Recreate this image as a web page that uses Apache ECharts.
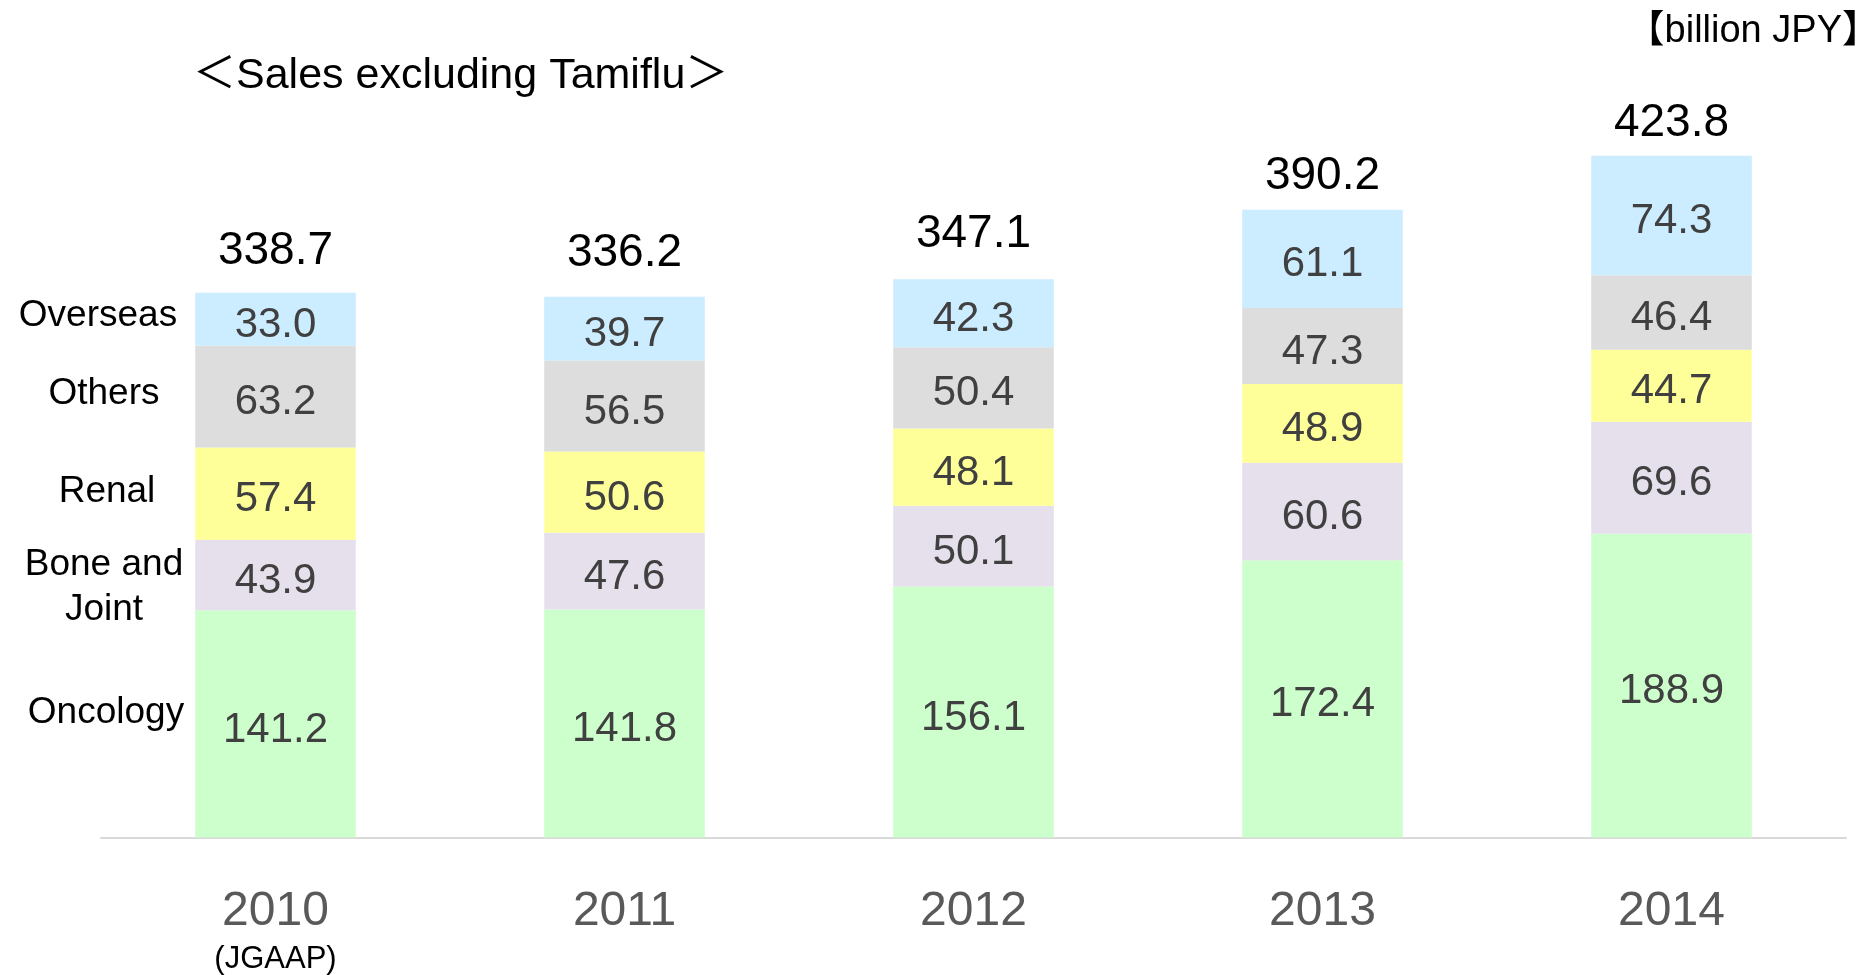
<!DOCTYPE html>
<html>
<head>
<meta charset="utf-8">
<script src="https://cdn.jsdelivr.net/npm/echarts@6/dist/echarts.min.js"></script>
<style>
    html, body { margin: 0; padding: 0; background: #fff; }
    #chart { width: 1869px; height: 975px; }
</style>
</head>
<body>
<div id="chart"></div>
<script>
    // data
    const years = ['2010', '2011', '2012', '2013', '2014'];
    const segNames = ['Oncology', 'Bone and\nJoint', 'Renal', 'Others', 'Overseas'];
    const oncology = [141.2, 141.8, 156.1, 172.4, 188.9];
    const boneJoint = [43.9, 47.6, 50.1, 60.6, 69.6];
    const renal = [57.4, 50.6, 48.1, 48.9, 44.7];
    const others = [63.2, 56.5, 50.4, 47.3, 46.4];
    const overseas = [33.0, 39.7, 42.3, 61.1, 74.3];
    const totals = [338.7, 336.2, 347.1, 390.2, 423.8];

    const colors = ['#CCFFCC', '#E5E0EC', '#FFFF99', '#DDDDDD', '#CCECFF'];
    const font = "'Liberation Sans', Arial, 'Noto Sans CJK JP', sans-serif";

    let chart = echarts.init(document.getElementById('chart'));

    const segSeries = [oncology, boneJoint, renal, others, overseas].map(function (vals, i) {
        return {
            name: segNames[i],
            type: 'bar',
            stack: 'sales',
            barWidth: '46%',
            data: vals,
            itemStyle: { color: colors[i] },
            label: {
                show: true,
                position: 'inside',
                offset: [0, 6],
                fontFamily: font,
                fontSize: 42,
                color: '#404040',
                formatter: function (p) { return p.value.toFixed(1); }
            }
        };
    });

    // label distance above each stack
    const topGap = [18, 20, 22, 10, 9];

    // zero height bar on top of each stack carries the total label
    const totalSeries = {
        name: 'total',
        type: 'bar',
        stack: 'sales',
        barWidth: '46%',
        silent: true,
        data: totals.map(function (t, i) {
            return { value: 0, label: { distance: topGap[i] } };
        }),
        label: {
            show: true,
            position: 'top',
            fontFamily: font,
            fontSize: 46,
            color: '#000',
            formatter: function (p) { return totals[p.dataIndex].toFixed(1); }
        }
    };

    // left side category names, next to the first bar
    const sideX = [106, 104, 107, 104, 98];
    const sideY = [713, 587, 492, 394, 316];
    const sideLabels = segNames.map(function (n, i) {
        return {
            type: 'text',
            x: sideX[i],
            y: sideY[i],
            style: {
                text: n,
                align: 'center',
                verticalAlign: 'middle',
                fontFamily: font,
                fontSize: 37,
                lineHeight: 45,
                fill: '#000'
            }
        };
    });

    chart.setOption({
        animation: false,
        grid: { left: 101, right: 23, top: 30, bottom: 137 },
        xAxis: {
            type: 'category',
            data: years,
            axisLine: { lineStyle: { color: '#D9D9D9', width: 2 } },
            axisTick: { show: false },
            axisLabel: {
                margin: 50,
                formatter: function (v) {
                    return v === '2010' ? '{y|' + v + '}\n{n|(JGAAP)}' : '{y|' + v + '}';
                },
                rich: {
                    y: { fontFamily: font, fontSize: 48, lineHeight: 48, color: '#595959' },
                    n: { fontFamily: font, fontSize: 31, lineHeight: 48, color: '#000' }
                }
            }
        },
        yAxis: {
            type: 'value',
            min: 0,
            max: 502,
            show: false,
            splitLine: { show: false }
        },
        series: segSeries.concat([totalSeries]),
        graphic: [
            {
                type: 'text',
                x: 193,
                y: 76,
                style: {
                    text: '＜Sales excluding Tamiflu＞',
                    verticalAlign: 'middle',
                    fontFamily: font,
                    fontSize: 43,
                    fill: '#000'
                }
            },
            {
                type: 'text',
                x: 1880,
                y: 32,
                style: {
                    text: '【billion JPY】',
                    align: 'right',
                    verticalAlign: 'middle',
                    fontFamily: font,
                    fontSize: 38,
                    fill: '#000'
                }
            }
        ].concat(sideLabels)
    });
</script>
</body>
</html>
